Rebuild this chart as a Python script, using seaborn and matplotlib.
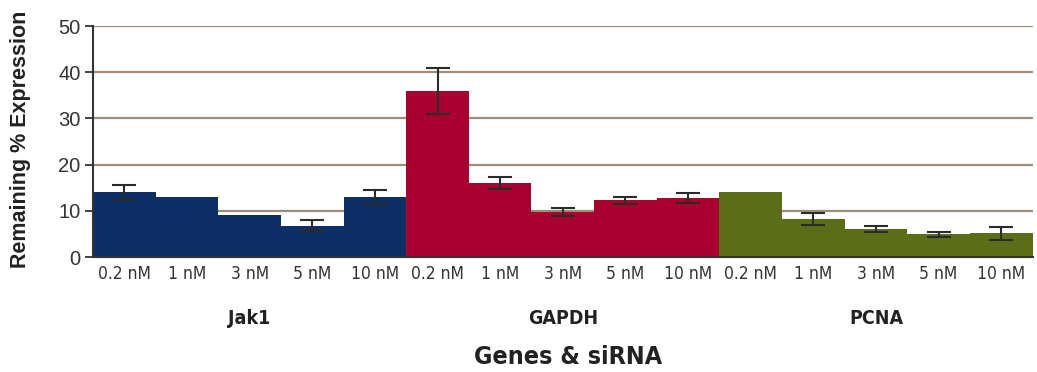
import numpy as np
import pandas as pd
import matplotlib
matplotlib.use("Agg")
import matplotlib.pyplot as plt
import seaborn as sns

genes = ["Jak1", "GAPDH", "PCNA"]
concs = ["0.2 nM", "1 nM", "3 nM", "5 nM", "10 nM"]
jak1 = [14.0, 13.0, 9.0, 6.8, 13.0]
jak1_err = [1.7, np.nan, np.nan, 1.2, 1.6]
gapdh = [36.0, 16.0, 9.7, 12.3, 12.8]
gapdh_err = [5.0, 1.3, 0.9, 0.8, 1.0]
pcna = [14.0, 8.3, 6.1, 4.9, 5.1]
pcna_err = [np.nan, 1.3, 0.7, 0.6, 1.5]
colors = {"Jak1": "#0c2f66", "GAPDH": "#a8002f", "PCNA": "#5b6e17"}

rows = []
for g, vals, errs in zip(genes, [jak1, gapdh, pcna], [jak1_err, gapdh_err, pcna_err]):
    for c, v, e in zip(concs, vals, errs):
        rows.append({"gene": g, "conc": c, "key": g + " " + c, "value": v, "err": e})
df = pd.DataFrame(rows)

sns.set_style("white")
plt.rcParams["font.family"] = ["Liberation Sans", "DejaVu Sans"]
narrow = dict(family=["DejaVu Sans"], fontstretch="condensed")

fig = plt.figure(figsize=(10.37, 3.72), dpi=100)
ax = fig.add_axes([0.0897, 0.309, 0.906, 0.621])

# gridlines behind the bars
for y in [10, 20, 30, 40, 50]:
    ax.axhline(y, color="#9d8d7c", lw=1.6, zorder=0)

sns.barplot(data=df, x="key", y="value", hue="gene", palette=colors,
            dodge=False, width=1.0, errorbar=None, legend=False,
            saturation=1, linewidth=0, ax=ax, zorder=2)

xs = np.arange(len(df))
ax.errorbar(xs, df["value"], yerr=df["err"], fmt="none", ecolor="#2b2b2b",
            elinewidth=1.5, capsize=8.5, capthick=1.5, zorder=3)

ax.set_xlim(-0.5, len(df) - 0.5)
ax.set_ylim(0, 50)
ax.set_yticks([0, 10, 20, 30, 40, 50])
ax.tick_params(axis="y", direction="out", length=6, width=1.3, color="#333333",
               labelsize=14.5, labelcolor="#333333", pad=3, left=True)
ax.set_xticks(xs)
ax.set_xticklabels(df["conc"], fontsize=12.5, color="#333333", **narrow)
ax.tick_params(axis="x", length=0, pad=6)

for s in ["top", "right"]:
    ax.spines[s].set_visible(False)
ax.spines["left"].set_color("#333333")
ax.spines["left"].set_linewidth(1.5)
ax.spines["bottom"].set_color("#333333")
ax.spines["bottom"].set_linewidth(1.5)

ax.set_xlabel("")
ax.set_ylabel("Remaining % Expression", fontsize=15.5, fontweight="bold",
              color="#222222")
ax.yaxis.set_label_coords(-0.066, 0.51)

for i, g in enumerate(genes):
    ax.text(i * 5 + 2, -0.265, g, transform=ax.get_xaxis_transform(),
            ha="center", va="center", fontsize=14, fontweight="bold",
            color="#222222", **narrow)
fig.text(0.548, 0.04, "Genes & siRNA", ha="center", va="center",
         fontsize=18, fontweight="bold", color="#222222", **narrow)

fig.savefig("out.png", dpi=100)
